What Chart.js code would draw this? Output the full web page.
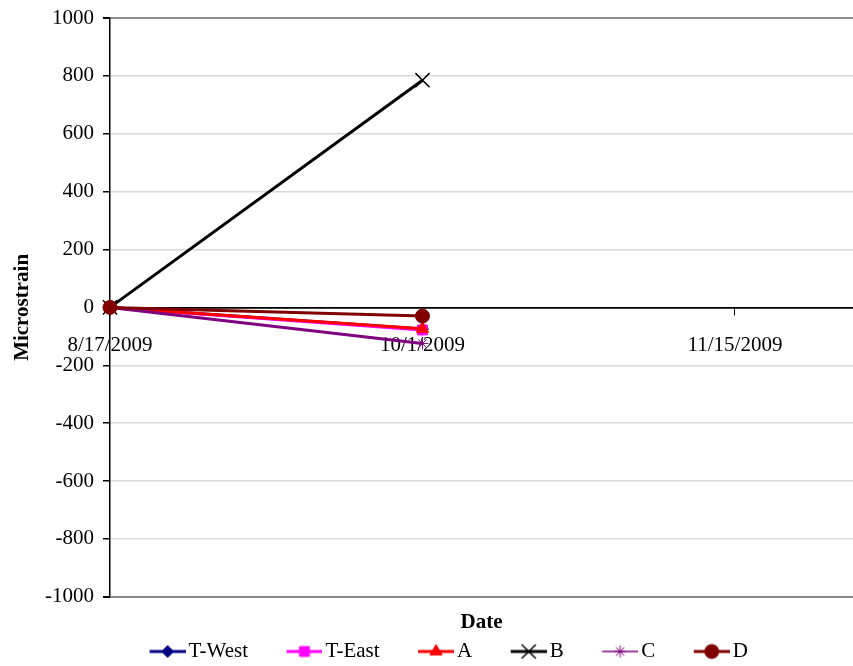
<!DOCTYPE html>
<html>
<head>
<meta charset="utf-8">
<title>Microstrain</title>
<script src="https://cdn.jsdelivr.net/npm/chart.js@4/dist/chart.umd.min.js"></script>
<style>
  html, body { margin:0; padding:0; background:#fff; }
  #wrap { width:853px; height:666px; }
</style>
</head>
<body>
<div id="wrap"><canvas id="chart" width="853" height="666"></canvas></div>
<script>
// reading dates (x) and microstrain per gauge
const dates = ['8/17/2009', '10/1/2009'];
const tWest = [0, -75];
const tEast = [0, -78];
const gaugeA = [0, -74];
const gaugeB = [0, 785];
const gaugeC = [0, -125];
const gaugeD = [0, -30];

const xStart = '8/17/2009';
const xEnd = '12/2/2009';
const xStepDays = 45;
const yTicks = [-1000, -800, -600, -400, -200, 0, 200, 400, 600, 800, 1000];

(function(){
  const DAY = 86400000;
  const parse = (s) => { const [m, d, y] = s.split('/').map(Number); return Date.UTC(y, m - 1, d); };
  const t0 = parse(xStart);
  const toDays = (s) => Math.round((parse(s) - t0) / DAY);
  const fmtDate = (days) => {
    const d = new Date(t0 + days * DAY);
    return (d.getUTCMonth() + 1) + '/' + d.getUTCDate() + '/' + d.getUTCFullYear();
  };
  const pts = (vals) => vals.map((v, i) => ({ x: toDays(dates[i]), y: v }));

  const series = [
    { label:'T-West', data:tWest,  color:'#000080', style:'rectRot',  radius:6,  bw:1, lw:3 },
    { label:'T-East', data:tEast,  color:'#FF00FF', style:'rect',     radius:7,  bw:1, lw:3 },
    { label:'A',      data:gaugeA, color:'#FF0000', style:'triangle', radius:7,  bw:1, lw:3 },
    { label:'B',      data:gaugeB, color:'#000000', style:'crossRot', radius:10, bw:1.5, lw:3 },
    { label:'C',      data:gaugeC, color:'#800080', style:'star',     radius:6,  bw:1, lw:3, legendLw:1.5 },
    { label:'D',      data:gaugeD, color:'#800000', style:'circle',   radius:7,  bw:1, lw:3 }
  ];

  // legend swatch = line with marker, like the spreadsheet legend
  const BOX = 63, SW = BOX + 15, LINE = 36;
  function swatch(s){
    const c = document.createElement('canvas');
    c.width = SW; c.height = 20;
    const g = c.getContext('2d');
    const x0 = SW - LINE;
    g.strokeStyle = s.color; g.lineWidth = s.legendLw || s.lw;
    g.beginPath(); g.moveTo(x0, 10); g.lineTo(x0 + LINE, 10); g.stroke();
    g.fillStyle = s.color; g.strokeStyle = s.color; g.lineWidth = s.bw;
    Chart.helpers.drawPoint(g, { pointStyle:s.style, radius:s.radius, rotation:0, borderWidth:s.bw }, x0 + LINE / 2, 10);
    return c;
  }

  const datasets = series.map((s, i) => ({
    label: s.label,
    data: pts(s.data),
    borderColor: s.color,
    backgroundColor: s.color,
    borderWidth: s.lw,
    pointStyle: s.style,
    pointRadius: s.radius,
    pointBorderWidth: s.bw,
    pointBackgroundColor: s.color,
    pointBorderColor: s.color,
    tension: 0,
    clip: false,
    order: series.length - i,
    xAxisID: 'x',
    yAxisID: 'y',
    _swatch: swatch(s)
  }));

  const serif = '"Liberation Serif", "Times New Roman", serif';
  const noSidePad = (sc) => { sc.paddingLeft = 0; sc.paddingRight = 0; };

  // nudge the legend row to the right, where the spreadsheet puts it
  const legendShift = {
    id: 'legendShift',
    afterLayout(chart){ const l = chart.legend; if (l) { l.left += 5; l.right += 5; } }
  };

  new Chart(document.getElementById('chart'), {
    type: 'line',
    data: { datasets },
    plugins: [legendShift],
    options: {
      responsive: false,
      animation: false,
      layout: { autoPadding: false, padding: { top: 1, right: 0, left: 0, bottom: -6 } },
      scales: {
        x: {
          type: 'linear',
          position: { y: 0 },
          min: 0,
          max: toDays(xEnd),
          afterFit: noSidePad,
          border: { color:'#000', width:1.5 },
          grid: { display:true, drawOnChartArea:false, tickLength:7, tickColor:'#000' },
          ticks: {
            stepSize: xStepDays,
            includeBounds: false,
            maxRotation: 0,
            padding: 18,
            color: '#000',
            font: { family: serif, size: 21 },
            callback: (v) => fmtDate(v)
          }
        },
        x2: {
          type: 'linear',
          position: 'bottom',
          min: 0, max: 1,
          afterFit: noSidePad,
          grid: { display:false },
          border: { display:false },
          ticks: { display:false },
          title: { display:true, text:'Date', color:'#000', padding:{ top:5, bottom:2 },
                   font: { family: serif, size: 21, weight: 'bold' } }
        },
        y: {
          min: -1000,
          max: 1000,
          afterBuildTicks: (sc) => { sc.ticks = yTicks.map(v => ({ value: v })); },
          afterFit: (sc) => { sc.width = 110; sc.paddingTop = 18; },
          border: { color:'#000', width:1.5 },
          grid: {
            tickLength: 7,
            tickColor: '#000',
            color: (c) => {
              const v = c.tick && c.tick.value;
              if (v === 0) return '#000';
              if (v === 1000 || v === -1000) return '#8c8c8c';
              return '#d9d9d9';
            },
            lineWidth: (c) => (c.tick && (c.tick.value === 1000 || c.tick.value === -1000)) ? 2 : 1.5
          },
          ticks: { padding: 9, color:'#000', font: { family: serif, size: 21 }, callback: (v) => String(v) },
          title: { display:true, text:'Microstrain', color:'#000', padding:{ top:10, bottom:0 },
                   font: { family: serif, size: 21, weight: 'bold' } }
        }
      },
      plugins: {
        tooltip: { enabled:false },
        legend: {
          position: 'bottom',
          labels: {
            usePointStyle: true,
            pointStyleWidth: BOX,
            padding: 4,
            color: '#000',
            font: { family: serif, size: 21 },
            generateLabels: (chart) => chart.data.datasets.map((ds, i) => ({
              text: ds.label,
              datasetIndex: i,
              pointStyle: ds._swatch,
              fillStyle: ds.borderColor,
              strokeStyle: ds.borderColor,
              lineWidth: 0,
              fontColor: '#000',
              hidden: false
            }))
          }
        }
      }
    }
  });
})();
</script>
</body>
</html>
